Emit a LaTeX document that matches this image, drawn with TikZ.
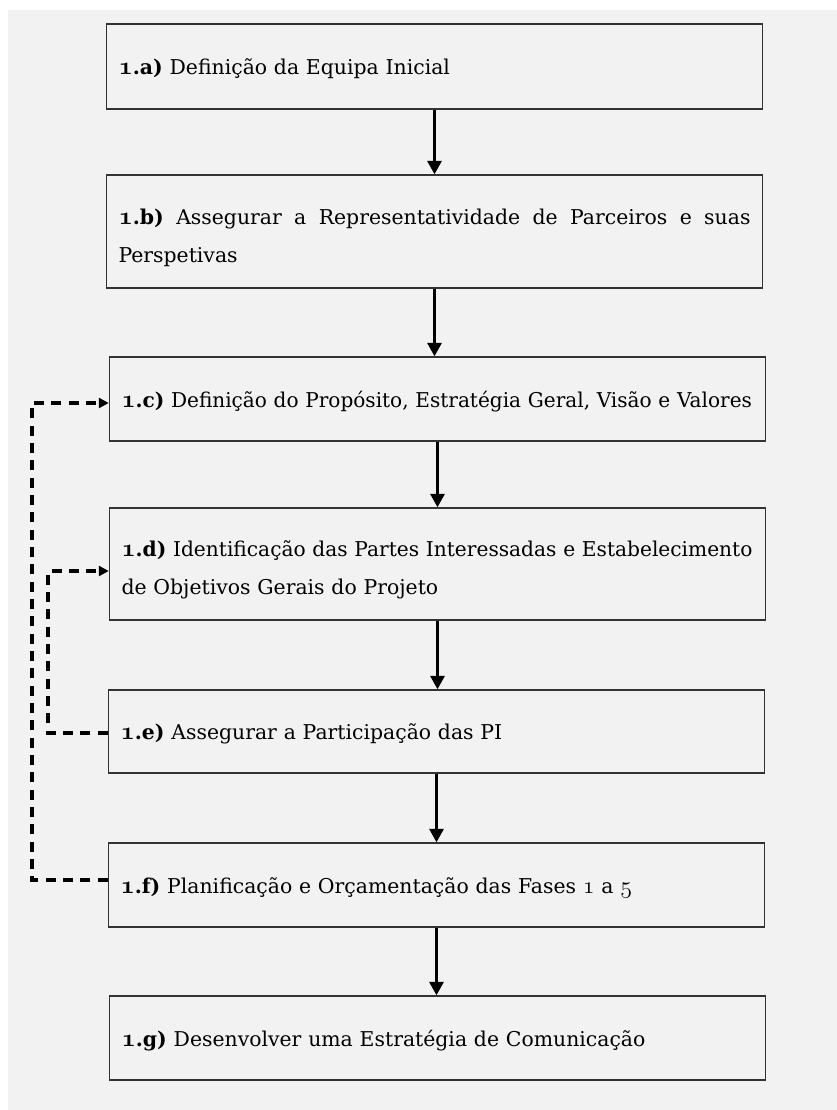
\documentclass[tikz,border=0pt]{standalone}
\usepackage{fontspec}
\setmainfont{DejaVu Serif}
\usetikzlibrary{arrows.meta}
\definecolor{pagegray}{HTML}{F2F2F2}
\definecolor{boxline}{HTML}{333333}
\newcommand{\stagefont}{\fontsize{15.3pt}{28.5pt}\selectfont}
% old-style figures for the stage numbers
\newcommand{\osnum}[1]{{\usefont{OML}{cmm}{m}{it}\scalebox{1.25}{#1}}}
\newcommand{\osnumb}[1]{{\usefont{OML}{cmm}{b}{it}\scalebox{1.3}{#1}}}
\newcommand{\lbl}[1]{\textbf{\osnumb{1}.#1)}}
\newcommand{\tight}[1]{\scalebox{#1}[1]}
\tikzset{
  stage/.style={draw=boxline, line width=1.1pt, rectangle, minimum height=#1,
    minimum width=492pt, inner sep=0pt},
  stagetext/.style={inner xsep=0pt, inner ysep=0pt, text width=474pt,
    align=left, font=\stagefont},
  flow/.style={line width=2.1pt, -{Triangle[length=10pt,width=10.5pt]}},
  loopback/.style={line width=2.4pt, dash pattern=on 7.5pt off 5.5pt,
    -{Triangle[length=7.5pt,width=7.5pt]}}
}
\begin{document}
\begin{tikzpicture}[x=0.75pt,y=-0.75pt]
  % page background
  \fill[white] (0,0) rectangle (837,1110);
  \fill[pagegray] (8,10) rectangle (837,1110);
  \useasboundingbox (0,0) rectangle (837,1110);

  % stage boxes
  \node[stage=63.75pt] (a) at (434.5,66.5) {};
  \node[stage=84.75pt] (b) at (434.5,231.5) {};
  \node[stage=63pt]    (c) at (437.5,399) {};
  \node[stage=84pt]    (d) at (437.5,564) {};
  \node[stage=62.25pt] (e) at (436.5,731.5) {};
  \node[stage=63pt]    (f) at (436.5,885) {};
  \node[stage=63pt]    (g) at (437.5,1038) {};

  % stage texts
  \node[stagetext] (a-txt) at ([yshift=-2pt]a.center) {\lbl{a} Definição da Equipa Inicial};
  \node[stagetext, align=justify] (b-txt) at ([yshift=-4.5pt]b.center)
    {\lbl{b} Assegurar a Representatividade de Parceiros e suas\linebreak Perspetivas};
  \node[stagetext] (c-txt) at ([yshift=-2pt]c.center)
    {\tight{0.984}{\lbl{c} Definição do Propósito, Estratégia Geral, Visão e Valores}};
  \node[stagetext] (d-txt) at ([yshift=-4.5pt]d.center)
    {\tight{0.989}{\lbl{d} Identificação das Partes Interessadas e Estabelecimento}\\ de Objetivos Gerais do Projeto};
  \node[stagetext] (e-txt) at ([yshift=-2pt]e.center) {\lbl{e} Assegurar a Participação das PI};
  \node[stagetext] (f-txt) at ([yshift=-2pt]f.center)
    {\lbl{f} Planificação e Orçamentação das Fases \osnum{1} a \osnum{5}};
  \node[stagetext] (g-txt) at ([yshift=-2pt]g.center) {\lbl{g} Desenvolver uma Estratégia de Comunicação};

  % main sequence
  \draw[flow] (a.south) -- (a.south |- b.north);
  \draw[flow] (b.south) -- (b.south |- c.north);
  \draw[flow] (c.south) -- (c.south |- d.north);
  \draw[flow] (d.south) -- (d.south |- e.north);
  \draw[flow] (e.south) -- (e.south |- f.north);
  \draw[flow] (f.south) -- (f.south |- g.north);

  % feedback loops
  \coordinate (outerrail) at (32,0);
  \coordinate (innerrail) at (48,0);
  \coordinate (fout) at ([yshift=3.75pt]f.west);
  \coordinate (cin) at ([yshift=-3pt]c.west);
  \coordinate (eout) at ([yshift=-1.1pt]e.west);
  \coordinate (din) at ([yshift=-5.25pt]d.west);
  \draw[loopback] (fout) -- (fout -| outerrail) |- (cin);
  \draw[loopback] (eout) -- (eout -| innerrail) |- (din);
\end{tikzpicture}
\end{document}
